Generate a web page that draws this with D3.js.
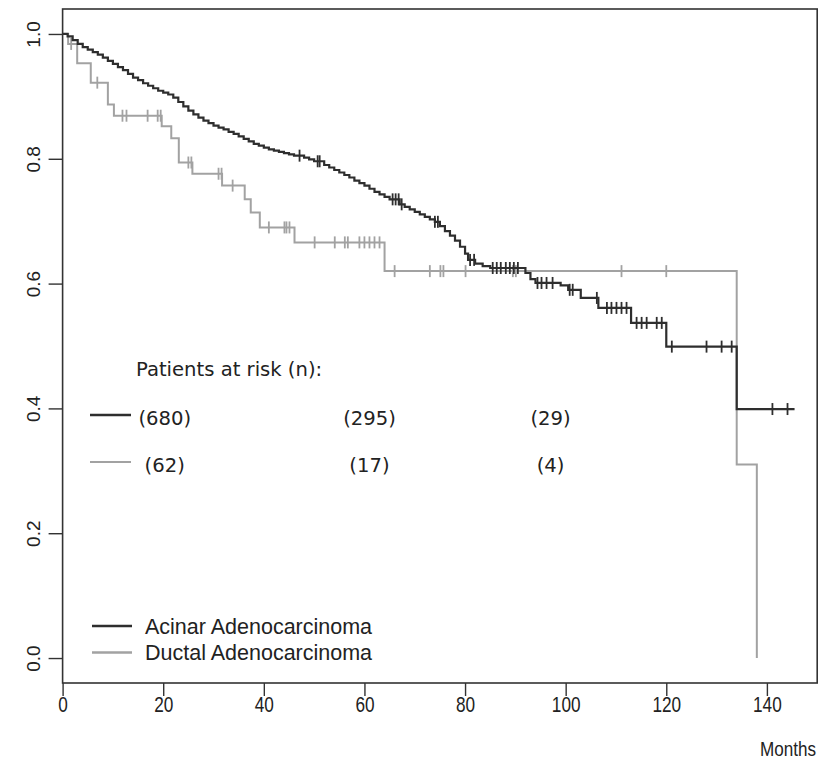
<!DOCTYPE html>
<html><head><meta charset="utf-8">
<script src="https://cdn.jsdelivr.net/npm/d3@7"></script>
<style>
html,body{margin:0;padding:0;background:#fff;}
svg{display:block;}
</style></head>
<body>
<svg id="chart" width="818" height="761"></svg>
<script>
// ---- Data ----
const xTicks = [0, 20, 40, 60, 80, 100, 120, 140];
const yTicks = [0.0, 0.2, 0.4, 0.6, 0.8, 1.0];
const yTickLabels = ["0.0", "0.2", "0.4", "0.6", "0.8", "1.0"];

const seriesNames = ["Acinar Adenocarcinoma", "Ductal Adenocarcinoma"];

// Acinar (black) KM step curve: event times and survival after each step
const acinarTimes = [0,1,2,3,4,5,6,7,8,9,10,11,12,13,14,15,16,17,18,19,20,21,22,23,24,25,26,27,28,29,30,31,32,33,34,35,36,37,38,39,40,41,42,43,44,45,46,48,49,50,52,53,54,55,56,57,58,59,60,61,62,63,64,65,67,68,69,70,71,72,73,74,75,76,77,78,79,80,80.6,82,83.5,85,92,93,94,99,100.5,103,106.5,113,120,134];
const acinarSurv  = [1.0,0.996,0.99,0.984,0.979,0.975,0.971,0.967,0.962,0.957,0.952,0.947,0.942,0.936,0.93,0.926,0.921,0.917,0.913,0.909,0.906,0.903,0.898,0.891,0.884,0.877,0.871,0.866,0.861,0.857,0.853,0.85,0.847,0.843,0.84,0.836,0.832,0.828,0.824,0.821,0.818,0.815,0.813,0.811,0.809,0.807,0.805,0.802,0.799,0.796,0.79,0.786,0.782,0.778,0.774,0.77,0.765,0.761,0.757,0.752,0.747,0.743,0.739,0.735,0.727,0.723,0.719,0.715,0.711,0.707,0.703,0.699,0.692,0.684,0.677,0.669,0.659,0.648,0.638,0.632,0.628,0.625,0.617,0.607,0.601,0.597,0.59,0.577,0.561,0.537,0.499,0.399];
const acinarEnd = 145.5;
const acinarCensor = [47.1,50.7,51.1,65.6,66.2,66.8,67.4,74,74.6,81,81.8,85.5,86.3,87.1,88.1,88.9,89.7,90.5,94.4,95.2,96.2,97.4,100.8,101.4,106.2,108.2,109.1,110.1,111.1,112.1,114.1,115.1,116.1,118.1,119.1,121.1,128,131,133,141.1,144.1];

// Ductal (grey) KM step curve
const ductalTimes = [0,1.1,2.9,5.6,9.0,10.2,19.7,21.6,23.1,25.8,31.7,36.2,37.4,39.2,46.1,64,134,138];
const ductalSurv  = [1.0,0.984,0.953,0.922,0.887,0.869,0.852,0.833,0.794,0.776,0.757,0.735,0.714,0.690,0.666,0.620,0.31,0.0];
const ductalEnd = 138;
const ductalCensor = [1.7,6.9,11.9,12.7,16.9,18.9,19.5,25.0,25.6,31.0,31.6,33.8,41,44.1,44.5,45.1,50.1,54.1,56.1,56.7,59,60,61,62,63,66,73,75.1,75.7,80.1,89.5,90.1,111.1,120];

// Patients at risk
const atRiskTitle = "Patients at risk (n):";
const atRiskTimes = [20.3, 61, 97];
const atRiskAcinar = [680, 295, 29];
const atRiskDuctal = [62, 17, 4];

// ---- Drawing ----
const svg = d3.select("#chart");
const colors = ["#2e2e2e", "#a2a2a2"];
const sans = "Liberation Sans, Arial, sans-serif";

const x = d3.scaleLinear().domain([0, 150]).range([62.6, 817.2]);
const y = d3.scaleLinear().domain([-0.04, 1.04]).range([683, 9]);

function stepData(times, surv, end) {
  const pts = times.map((t, i) => [t, surv[i]]);
  pts.push([end, surv[surv.length - 1]]);
  return pts;
}
function survAt(times, surv, t) {
  let s = surv[0];
  for (let i = 0; i < times.length; i++) { if (times[i] <= t) s = surv[i]; }
  return s;
}

const line = d3.line().x(d => x(d[0])).y(d => y(d[1])).curve(d3.curveStepAfter);

const series = [
  {times: ductalTimes, surv: ductalSurv, end: ductalEnd, censor: ductalCensor, color: colors[1], w: 2},
  {times: acinarTimes, surv: acinarSurv, end: acinarEnd, censor: acinarCensor, color: colors[0], w: 2.2}
];
series.forEach(s => {
  svg.append("path").datum(stepData(s.times, s.surv, s.end))
    .attr("d", line).attr("fill", "none").attr("stroke", s.color)
    .attr("stroke-width", s.w);
  svg.append("g").selectAll("line").data(s.censor).join("line")
    .attr("x1", d => x(d)).attr("x2", d => x(d))
    .attr("y1", d => y(survAt(s.times, s.surv, d)) - 6)
    .attr("y2", d => y(survAt(s.times, s.surv, d)) + 6)
    .attr("stroke", s.color).attr("stroke-width", 1.8);
});

// Box
svg.append("rect").attr("x", x(0)).attr("y", y(1.04))
  .attr("width", x(150) - x(0)).attr("height", y(-0.04) - y(1.04))
  .attr("fill", "none").attr("stroke", "#333").attr("stroke-width", 1.6);

// Axes
const xAxis = d3.axisBottom(x).tickValues(xTicks).tickSize(13).tickPadding(0).tickFormat(d3.format("d"));
const gx = svg.append("g").attr("transform", `translate(0,${y(-0.04)})`).call(xAxis);
gx.select(".domain").remove();
gx.selectAll("line").attr("stroke", "#333").attr("stroke-width", 1.4);
gx.selectAll("text").attr("fill", "#222")
  .attr("transform", "translate(0,14) scale(0.86,1.12) translate(0,-14)")
  .style("font-family", sans).style("font-size", "20px");

const yAxis = d3.axisLeft(y).tickValues(yTicks).tickSize(14).tickFormat((d, i) => yTickLabels[i]);
const gy = svg.append("g").attr("transform", `translate(${x(0)},0)`).call(yAxis);
gy.select(".domain").remove();
gy.selectAll("line").attr("stroke", "#333").attr("stroke-width", 1.4);
gy.selectAll("text")
  .attr("fill", "#222")
  .attr("x", 0).attr("dy", null)
  .attr("text-anchor", "middle")
  .attr("transform", "translate(-29,0) rotate(-90)")
  .attr("dominant-baseline", "central")
  .style("font-family", sans).style("font-size", "19px");

svg.append("text").attr("x", 816).attr("y", 756).attr("text-anchor", "end")
  .attr("fill", "#222").attr("transform", "translate(816,756) scale(0.9,1.1) translate(-816,-756)")
  .style("font-family", sans).style("font-size", "19px")
  .text("Months");

// At-risk table
const riskFont = "DejaVu Sans, Verdana, sans-serif";
svg.append("text").attr("x", 136).attr("y", 376).attr("fill", "#222")
  .style("font-family", riskFont).style("font-size", "19.6px").text(atRiskTitle);
[[atRiskAcinar, 418, colors[0], 2.6], [atRiskDuctal, 465, colors[1], 2.2]].forEach(([vals, yy, c, w]) => {
  svg.append("line").attr("x1", 90).attr("x2", 131).attr("y1", yy - 3).attr("y2", yy - 3)
    .attr("stroke", c).attr("stroke-width", w);
  svg.append("g").selectAll("text").data(vals).join("text")
    .attr("x", (d, i) => x(atRiskTimes[i])).attr("y", yy + 7)
    .attr("text-anchor", "middle").attr("fill", "#222")
    .style("font-family", riskFont).style("font-size", "19.6px")
    .text(d => `(${d})`);
});

// Legend
seriesNames.forEach((n, i) => {
  const yy = 626 + i * 26.5;
  svg.append("line").attr("x1", 92).attr("x2", 132).attr("y1", yy).attr("y2", yy)
    .attr("stroke", colors[i]).attr("stroke-width", 2.6);
  svg.append("text").attr("x", 145).attr("y", yy + 7.5).attr("fill", "#222")
    .style("font-family", sans).style("font-size", "21.5px")
    .text(n);
});
</script>
</body></html>
